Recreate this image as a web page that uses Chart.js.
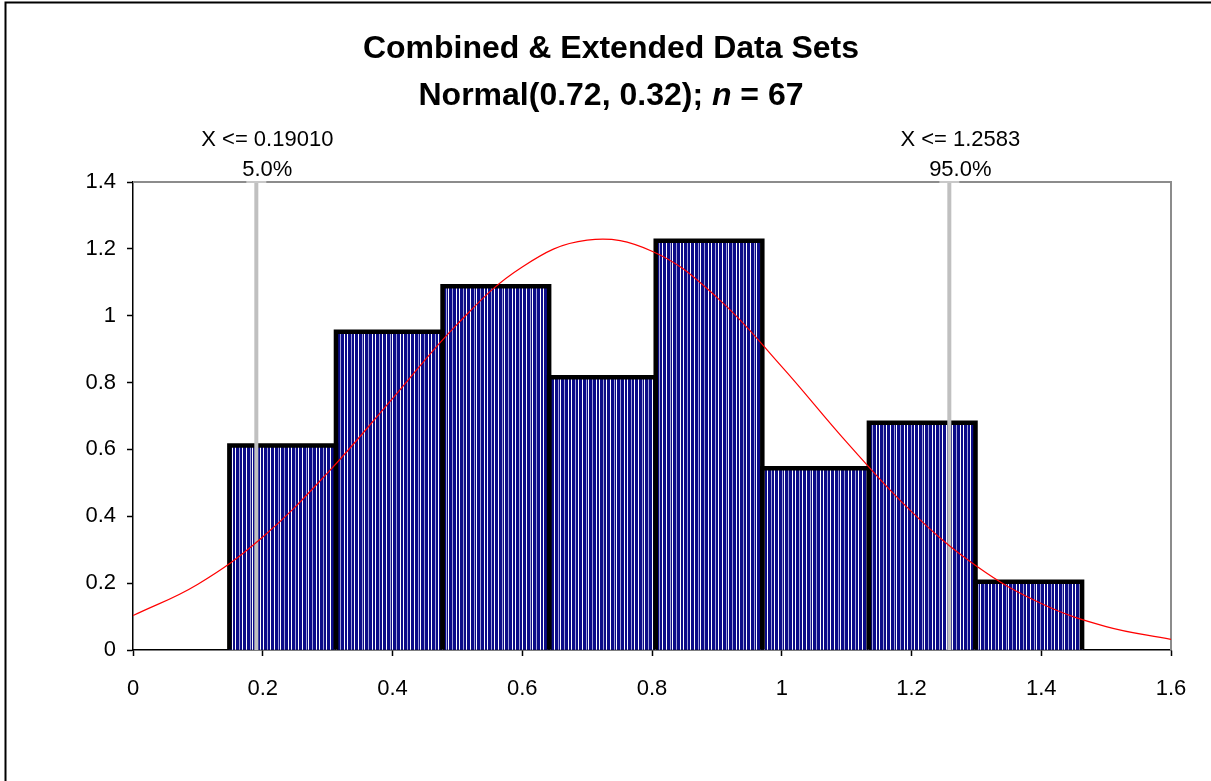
<!DOCTYPE html>
<html>
<head>
<meta charset="utf-8">
<title>Combined &amp; Extended Data Sets</title>
<script src="https://cdn.jsdelivr.net/npm/chart.js@4.4.1/dist/chart.umd.min.js"></script>
<style>
  html, body { margin: 0; padding: 0; background: #fff; }
  #wrap { position: relative; width: 1211px; height: 781px; overflow: hidden; }
  canvas { display: block; }
</style>
</head>
<body>
<div id="wrap"><canvas id="chart" width="1211" height="781"></canvas></div>
<script>
// Histogram bins (centres of equal-width bins) and their densities
const binCenters = [0.2307, 0.3950, 0.5593, 0.7236, 0.8879, 1.0522, 1.2165, 1.3808];
const binDensity = [0.612, 0.952, 1.088, 0.816, 1.224, 0.544, 0.680, 0.204];

// Fitted normal curve, sampled along the x axis
const curveX = [0, 0.1, 0.2, 0.3, 0.4, 0.5, 0.6, 0.7, 0.8, 0.9, 1.0, 1.1, 1.2, 1.3, 1.4, 1.5, 1.6];
const curveY = [0.103, 0.197, 0.338, 0.530, 0.752, 0.975, 1.146, 1.226, 1.193, 1.055, 0.848, 0.622, 0.414, 0.251, 0.139, 0.070, 0.032];

// Percentile markers
const markerX = [0.19010, 1.2583];
const markerTop = [1.4, 1.4];
const markerLabels = ['X <= 0.19010', 'X <= 1.2583'];
const markerPercents = ['5.0%', '95.0%'];

// Axis ticks
const xTickValues = [0, 0.2, 0.4, 0.6, 0.8, 1, 1.2, 1.4, 1.6];
const yTickValues = [0, 0.2, 0.4, 0.6, 0.8, 1, 1.2, 1.4];

const titleLine1 = 'Combined & Extended Data Sets';
const titleLine2 = ['Normal(0.72, 0.32); ', 'n', ' = 67'];

const FONT = "'Liberation Sans', Arial, Helvetica, sans-serif";

// Vertical-stripe fill for the bars
function stripePattern() {
  const cols = ['W','N','N','N','L','N','N','N','W','N','N','W','N','N','N','L','N','N','W','N','N','N','W','N','N','N','L','N'];
  const colour = { W: '#ffffff', L: '#a4a4d8', N: '#0c0c88' };
  const c = document.createElement('canvas');
  c.width = cols.length; c.height = 4;
  const g = c.getContext('2d');
  cols.forEach((k, i) => { g.fillStyle = colour[k]; g.fillRect(i, 0, 1, 4); });
  return document.getElementById('chart').getContext('2d').createPattern(c, 'repeat');
}

const barData = binCenters.map((x, i) => ({ x, y: binDensity[i] }));
const curveData = curveX.map((x, i) => ({ x, y: curveY[i] }));
const markerSets = markerX.map((x, i) => ({
  type: 'line',
  data: [{ x, y: 0 }, { x, y: markerTop[i] }],
  borderColor: '#c0c0c0',
  borderWidth: 4,
  pointRadius: 0,
  order: 1
}));

// Page frame, plot-area outline and text
const decor = {
  id: 'decor',
  beforeDraw(chart) {
    const ctx = chart.ctx;
    ctx.save();
    ctx.fillStyle = '#fff';
    ctx.fillRect(0, 0, chart.width, chart.height);
    ctx.strokeStyle = '#000';
    ctx.lineWidth = 2;
    ctx.beginPath();
    ctx.moveTo(5.5, chart.height + 5);
    ctx.lineTo(5.5, 2.5);
    ctx.lineTo(chart.width + 5, 2.5);
    ctx.stroke();
    ctx.restore();
  },
  beforeDatasetsDraw(chart) {
    const { ctx, chartArea: a } = chart;
    ctx.save();
    ctx.strokeStyle = '#8c8c8c';
    ctx.lineWidth = 2;
    ctx.beginPath();
    ctx.moveTo(a.left, a.top);
    ctx.lineTo(a.right, a.top);
    ctx.lineTo(a.right, a.bottom);
    ctx.stroke();
    ctx.restore();
  },
  afterDatasetDraw(chart, args) {
    if (args.index !== 0) return;
    const ctx = chart.ctx;
    ctx.save();
    ctx.strokeStyle = '#000';
    ctx.lineWidth = 4.5;
    ctx.lineJoin = 'miter';
    args.meta.data.forEach(el => {
      const p = el.getProps(['x', 'y', 'base', 'width'], true);
      const l = p.x - p.width / 2, r = p.x + p.width / 2;
      ctx.beginPath();
      ctx.moveTo(l, p.base);
      ctx.lineTo(l, p.y);
      ctx.lineTo(r, p.y);
      ctx.lineTo(r, p.base);
      ctx.stroke();
    });
    ctx.restore();
  },
  afterDraw(chart) {
    const ctx = chart.ctx;
    const xs = chart.scales.x, ys = chart.scales.y;
    ctx.save();
    // caps on the percentile markers
    ctx.strokeStyle = '#c8c8c8';
    ctx.lineWidth = 2;
    markerX.forEach((v, i) => {
      const px = xs.getPixelForValue(v), py = ys.getPixelForValue(markerTop[i]);
      ctx.beginPath();
      ctx.moveTo(px - 10, py);
      ctx.lineTo(px + 10, py);
      ctx.stroke();
    });
    // percentile labels
    ctx.fillStyle = '#000';
    ctx.textAlign = 'center';
    ctx.textBaseline = 'middle';
    ctx.font = '22px ' + FONT;
    markerX.forEach((v, i) => {
      const px = xs.getPixelForValue(v) + 11;
      ctx.fillText(markerLabels[i], px, 140);
      ctx.fillText(markerPercents[i], px, 170);
    });
    // title
    const cx = 611;
    ctx.font = 'bold 32px ' + FONT;
    ctx.fillText(titleLine1, cx, 49);
    const fonts = ['bold 32px ' + FONT, 'italic bold 32px ' + FONT, 'bold 32px ' + FONT];
    let total = 0;
    const widths = titleLine2.map((t, i) => { ctx.font = fonts[i]; const w = ctx.measureText(t).width; total += w; return w; });
    let x = cx - total / 2;
    ctx.textAlign = 'left';
    titleLine2.forEach((t, i) => { ctx.font = fonts[i]; ctx.fillText(t, x, 96); x += widths[i]; });
    ctx.restore();
  }
};

new Chart(document.getElementById('chart'), {
  type: 'bar',
  data: {
    datasets: [
      {
        type: 'bar',
        data: barData,
        backgroundColor: stripePattern(),
        borderWidth: 0,
        barPercentage: 1,
        categoryPercentage: 1,
        order: 2
      },
      ...markerSets,
      {
        type: 'line',
        data: curveData,
        borderColor: '#ff0000',
        borderWidth: 1.2,
        pointRadius: 0,
        tension: 0.4,
        order: 0
      }
    ]
  },
  options: {
    responsive: false,
    animation: false,
    events: [],
    layout: { padding: { left: 0, top: 182, right: 40, bottom: 0 } },
    plugins: { legend: { display: false }, tooltip: { enabled: false }, title: { display: false } },
    scales: {
      x: {
        type: 'linear',
        min: 0, max: 1.6,
        offset: false,
        afterBuildTicks: s => { s.ticks = xTickValues.map(value => ({ value })); },
        afterFit: s => { s.height = 131; },
        grid: { offset: false, drawOnChartArea: false, drawTicks: true, tickLength: 6, tickColor: '#000', tickWidth: 1.5 },
        border: { display: true, color: '#000', width: 1.5 },
        ticks: { color: '#000', font: { family: FONT, size: 22 }, padding: 20, maxRotation: 0, autoSkip: false, callback: v => String(v) }
      },
      y: {
        type: 'linear',
        min: 0, max: 1.4,
        afterBuildTicks: s => { s.ticks = yTickValues.map(value => ({ value })); },
        afterFit: s => { s.width = 133; },
        grid: { drawOnChartArea: false, drawTicks: true, tickLength: 6, tickColor: '#000', tickWidth: 1.5 },
        border: { display: true, color: '#000', width: 1.5 },
        ticks: { color: '#000', font: { family: FONT, size: 22 }, padding: 11, autoSkip: false, callback: v => String(v) }
      }
    }
  },
  plugins: [decor]
});
</script>
</body>
</html>
